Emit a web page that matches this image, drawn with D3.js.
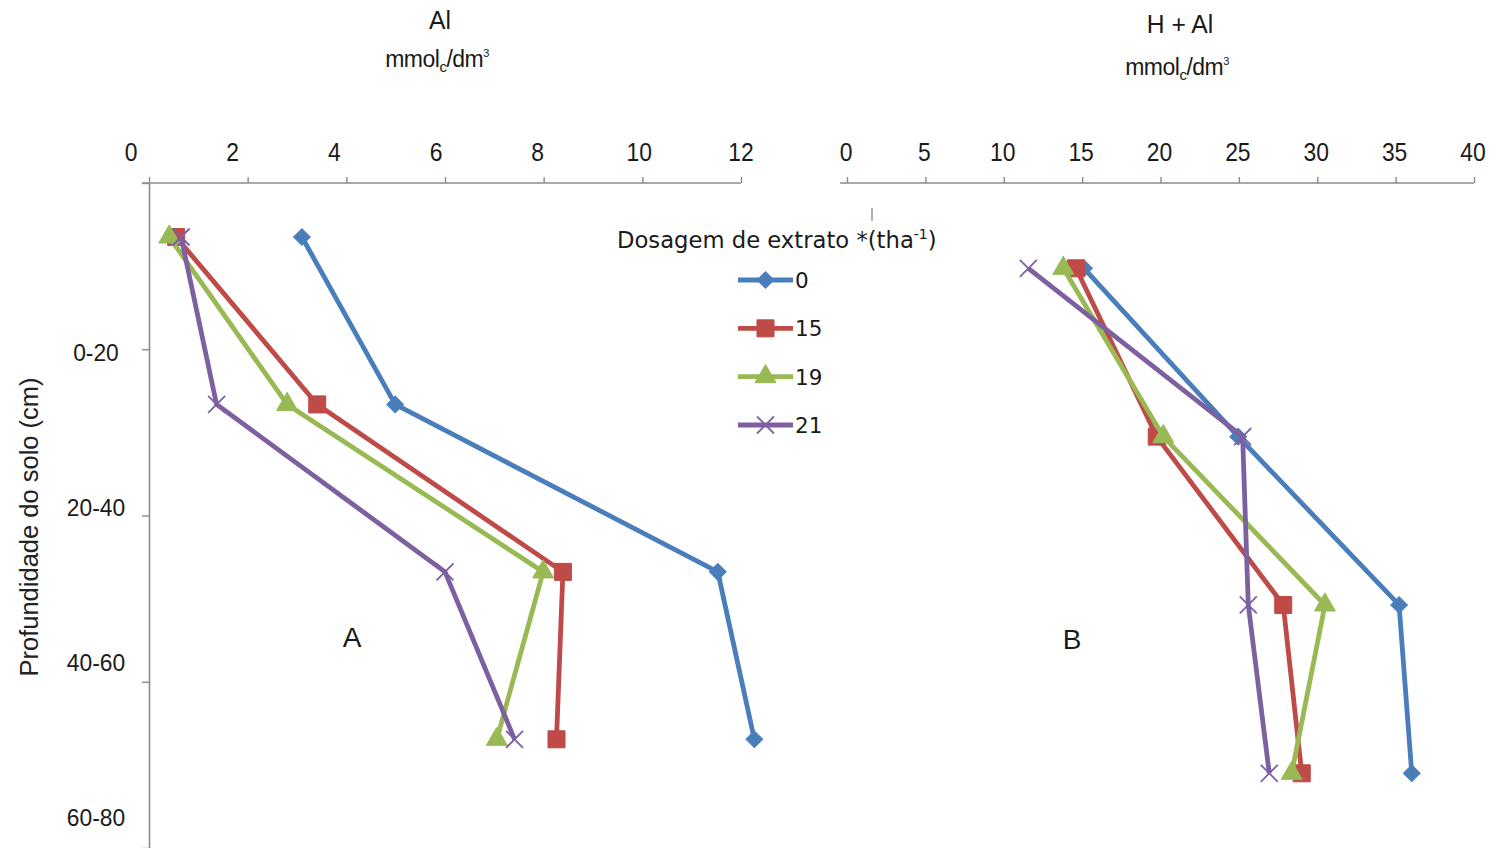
<!DOCTYPE html>
<html><head><meta charset="utf-8">
<script src="https://cdn.jsdelivr.net/npm/d3@7"></script>
<style>body{margin:0;background:#fff;} svg{display:block;}</style>
</head><body>
<svg id="c" width="1492" height="848"></svg>
<script>
// ---- data ----
const depthCategories = ["0-20", "20-40", "40-60", "60-80"];
const depthMid = [10, 30, 50, 70];
const depthTicks = [0, 20, 40, 60, 80];
const seriesNames = ["0", "15", "19", "21"];
const alTicks = [0, 2, 4, 6, 8, 10, 12];
const halTicks = [0, 5, 10, 15, 20, 25, 30, 35, 40];
// Al (mmolc/dm3)
const al_0  = [3.10, 4.99, 11.53, 12.27];
const al_15 = [0.55, 3.41, 8.39, 8.26];
const al_19 = [0.41, 2.80, 7.99, 7.05];
const al_21 = [0.65, 1.37, 6.00, 7.41];
// H + Al (mmolc/dm3)
const hal_0  = [15.12, 24.96, 35.22, 36.03];
const hal_15 = [14.61, 19.76, 27.83, 29.01];
const hal_19 = [13.80, 20.18, 30.49, 28.37];
const hal_21 = [11.57, 25.24, 25.60, 26.94];

const colors = ["#4a7ebb", "#be4b48", "#98b954", "#7d60a0"];
const markers = ["diamond", "square", "triangle", "x"];

const svg = d3.select("#c");
const font = "'Liberation Sans', Arial, sans-serif";
const legendFont = "'DejaVu Sans', Verdana, sans-serif";
const axisColor = "#8c8c8c";
const textColor = "#1a1a1a";

// ---- scales ----
const xAl = d3.scaleLinear().domain([0, 12]).range([149, 741]);
const xAlLabel = d3.scaleLinear().domain([0, 12]).range([131, 741]);
const xHal = d3.scaleLinear().domain([0, 40]).range([847, 1474]);
const xHalLabel = d3.scaleLinear().domain([0, 40]).range([846, 1473]);
const yAl = d3.scaleLinear().domain([10, 70]).range([237, 739.3]);
const yHal = d3.scaleLinear().domain([10, 70]).range([268.3, 773.3]);
const yAxisScale = d3.scaleLinear().domain([0, 80]).range([183, 848]);
const yLabelScale = d3.scalePoint().domain(depthCategories).range([352, 817]);

// ---- top axes ----
function topAxis(scale, labelScale, ticks) {
  const g = svg.append("g").attr("transform", "translate(0,183)");
  g.call(d3.axisTop(scale).tickValues(ticks).tickSize(6).tickSizeOuter(0).tickFormat(""));
  g.select(".domain").remove();
  g.append("line").attr("x1", scale.range()[0] - 7).attr("x2", scale.range()[1])
    .attr("y1", 0).attr("y2", 0).attr("stroke", axisColor).attr("stroke-width", 1.6);
  g.selectAll(".tick line").attr("stroke", axisColor).attr("stroke-width", 1.4);
  svg.append("g").selectAll("text").data(ticks).join("text")
    .attr("x", d => labelScale(d)).attr("y", 161)
    .attr("text-anchor", "middle").attr("font-family", font).attr("font-size", 26)
    .attr("fill", textColor)
    .style("transform-box", "fill-box").style("transform-origin", "center")
    .style("transform", "scaleX(0.88)")
    .text(d => d);
}
topAxis(xAl, xAlLabel, alTicks);
topAxis(xHal, xHalLabel, halTicks);

// ---- left depth axis ----
const ya = svg.append("g").attr("transform", "translate(149,0)");
ya.call(d3.axisLeft(yAxisScale).tickValues(depthTicks).tickSize(7).tickSizeOuter(0).tickFormat(""));
ya.select(".domain").attr("stroke", axisColor).attr("stroke-width", 1.6);
ya.selectAll(".tick line").attr("stroke", axisColor).attr("stroke-width", 1.4);
svg.append("g").selectAll("text").data(depthCategories).join("text")
  .attr("x", 96).attr("y", d => yLabelScale(d)).attr("dy", "0.36em")
  .attr("text-anchor", "middle").attr("font-family", font).attr("font-size", 24)
  .attr("fill", textColor)
  .style("transform-box", "fill-box").style("transform-origin", "center")
  .style("transform", "scaleX(0.95)")
  .text(d => d);

// stray tick of the second panel's hidden axis
svg.append("line").attr("x1", 872).attr("x2", 872).attr("y1", 208).attr("y2", 221)
  .attr("stroke", axisColor).attr("stroke-width", 1.4);

// axis title
svg.append("text").attr("transform", "translate(38,527) rotate(-90)")
  .attr("text-anchor", "middle").attr("font-family", font).attr("font-size", 25.5)
  .attr("fill", "#222").text("Profundidade do solo (cm)");

// ---- titles ----
function title(x, y, main, yu) {
  svg.append("text").attr("x", x).attr("y", y).attr("text-anchor", "middle")
    .attr("font-family", font).attr("font-size", 26).attr("fill", textColor)
    .style("transform-box", "fill-box").style("transform-origin", "center")
    .style("transform", "scaleX(0.95)").text(main);
  const u = svg.append("text").attr("x", x - 3).attr("y", yu).attr("text-anchor", "middle")
    .attr("font-family", font).attr("font-size", 23).attr("fill", textColor)
    .attr("letter-spacing", -0.5);
  u.append("tspan").text("mmol");
  u.append("tspan").attr("font-size", 15).attr("dy", 5).text("c");
  u.append("tspan").attr("dy", -5).text("/dm");
  u.append("tspan").attr("font-size", 11).attr("dy", -10).text("3");
}
title(440, 29, "Al", 67);
title(1180, 33, "H + Al", 75);

// panel letters
svg.append("text").attr("x", 352).attr("y", 647).attr("text-anchor", "middle")
  .attr("font-family", font).attr("font-size", 28).attr("fill", textColor).text("A");
svg.append("text").attr("x", 1072).attr("y", 649).attr("text-anchor", "middle")
  .attr("font-family", font).attr("font-size", 28).attr("fill", textColor).text("B");

// ---- markers ----
function markerPath(type) {
  if (type === "diamond") return d3.symbol(d3.symbolSquare, 140)();
  if (type === "square") return d3.symbol(d3.symbolSquare, 290)();
  if (type === "triangle") return d3.symbol(d3.symbolTriangle, 190)();
  return "M-8.5,-8.5L8.5,8.5M-8.5,8.5L8.5,-8.5";
}
function drawMarker(g, type, color, x, y) {
  const p = g.append("path").attr("d", markerPath(type))
    .attr("transform", `translate(${x},${y})` + (type === "diamond" ? " rotate(45)" : ""));
  if (type === "x") p.attr("fill", "none").attr("stroke", color).attr("stroke-width", 1.8);
  else p.attr("fill", color).attr("stroke", color).attr("stroke-width", 1);
}

function drawPanel(seriesList, xs, ys) {
  const g = svg.append("g");
  seriesList.forEach((vals, i) => {
    const pts = vals.map((v, j) => [xs(v), ys(depthMid[j])]);
    g.append("path").attr("d", d3.line()(pts)).attr("fill", "none")
      .attr("stroke", colors[i]).attr("stroke-width", 4.8).attr("stroke-linejoin", "round");
    pts.forEach(p => drawMarker(g, markers[i], colors[i], p[0], p[1]));
  });
}
drawPanel([al_0, al_15, al_19, al_21], xAl, yAl);
drawPanel([hal_0, hal_15, hal_19, hal_21], xHal, yHal);

// ---- legend ----
const lg = svg.append("g");
const lt = lg.append("text").attr("x", 617).attr("y", 248).attr("font-family", legendFont)
  .attr("font-size", 22.7).attr("fill", textColor);
lt.append("tspan").text("Dosagem de extrato *(tha");
lt.append("tspan").attr("font-size", 14).attr("dy", -9).text("-1");
lt.append("tspan").attr("dy", 9).text(")");
const legendY = d3.scalePoint().domain(seriesNames).range([280, 425]);
seriesNames.forEach((name, i) => {
  const y = legendY(name);
  lg.append("line").attr("x1", 738).attr("x2", 793).attr("y1", y).attr("y2", y)
    .attr("stroke", colors[i]).attr("stroke-width", 4.8);
  drawMarker(lg, markers[i], colors[i], 765.5, y);
  lg.append("text").attr("x", 795).attr("y", y).attr("dy", "0.37em")
    .attr("font-family", legendFont).attr("font-size", 21.5)
    .attr("fill", textColor).text(name);
});
</script>
</body></html>
